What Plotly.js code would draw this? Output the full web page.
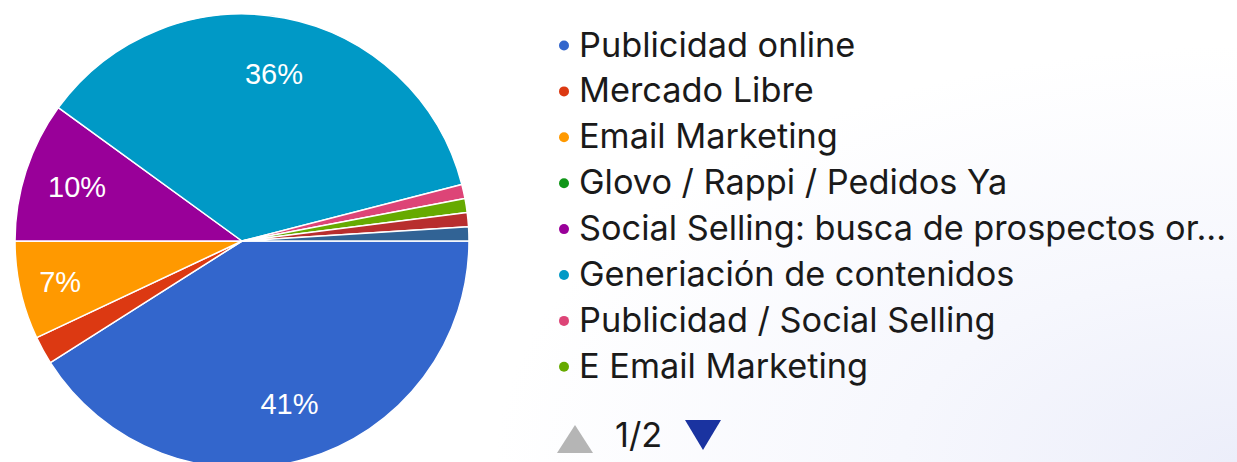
<!DOCTYPE html>
<html>
<head>
<meta charset="utf-8">
<script src="https://cdn.plot.ly/plotly-3.0.1.min.js"></script>
<style>
html,body{margin:0;padding:0;overflow:hidden;width:1237px;height:462px;
background: radial-gradient(ellipse 60% 90% at 100% 100%, #eceefa 0%, #f6f7fd 45%, #ffffff 100%);}
#chart{width:1237px;height:476px;}
</style>
</head>
<body>
<div id="chart"></div>
<script>
// ---- data ----
const labels = [
  "Publicidad online",
  "Mercado Libre",
  "Email Marketing",
  "Glovo / Rappi / Pedidos Ya",
  "Social Selling: busca de prospectos or...",
  "Generiación de contenidos",
  "Publicidad / Social Selling",
  "E Email Marketing",
  "Otra opción 1",
  "Otra opción 2"
];
const values = [41, 2, 7, 0, 10, 36, 1, 1, 1, 1];
const colors = ["#3366cc","#dc3912","#ff9900","#109618","#990099","#0099c6","#dd4477","#66aa00","#b82e2e","#316395"];
const legendPage = "1/2";
const legendCount = 8;

// ---- layout helpers ----
const W = 1237, H = 476;
const px = x => x / W;
const py = y => 1 - y / H;

const total = values.reduce((a,b)=>a+b,0);
const texts = values.map(v => (v/total >= 0.05) ? Math.round(100*v/total) + "%" : "");
const domain = {x: [px(15), px(469)], y: [py(468), py(14)]};

const base = {
  type: "pie",
  labels: labels,
  values: values,
  textinfo: "none",
  sort: false,
  direction: "clockwise",
  rotation: 90,
  marker: {colors: colors, line: {color: "#ffffff", width: 1.5}},
  domain: domain,
  showlegend: false,
  hoverinfo: "label+value+percent"
};
// transparent ring used only to place the percentage labels further out
const labelRing = {
  type: "pie",
  labels: labels,
  values: values,
  text: texts,
  textinfo: "text",
  textposition: "inside",
  insidetextorientation: "horizontal",
  textfont: {family: "Liberation Sans, Arial, sans-serif", size: 29, color: "#ffffff"},
  hole: 0.5,
  sort: false,
  direction: "clockwise",
  rotation: 90,
  marker: {colors: colors.map(() => "rgba(0,0,0,0)"), line: {width: 0}},
  domain: domain,
  showlegend: false,
  hoverinfo: "skip"
};

const annotations = [];
const shapes = [];
const font = "Inter, Liberation Sans, Arial, sans-serif";
const fsize = 34.3;
for (let i = 0; i < legendCount; i++) {
  const cy = 45.5 + 45.9 * i;
  shapes.push({type: "circle", xref: "paper", yref: "paper",
    x0: px(559), x1: px(569), y0: py(cy + 5), y1: py(cy - 5),
    fillcolor: colors[i], line: {width: 0}});
  annotations.push({xref: "paper", yref: "paper", x: px(577), y: py(cy - 1.5),
    xanchor: "left", yanchor: "middle", showarrow: false,
    text: labels[i], font: {family: font, size: fsize, color: "#1a1a1a"}});
}
// pager
shapes.push({type: "path", xref: "paper", yref: "paper",
  path: `M ${px(557)} ${py(453)} L ${px(593)} ${py(453)} L ${px(575)} ${py(425)} Z`,
  fillcolor: "#b5b5b5", line: {width: 0}});
shapes.push({type: "path", xref: "paper", yref: "paper",
  path: `M ${px(685)} ${py(420)} L ${px(721)} ${py(420)} L ${px(703)} ${py(450)} Z`,
  fillcolor: "#1a33a0", line: {width: 0}});
annotations.push({xref: "paper", yref: "paper", x: px(638), y: py(434),
  xanchor: "center", yanchor: "middle", showarrow: false,
  text: legendPage, font: {family: font, size: fsize, color: "#1a1a1a"}});

const layout = {
  width: W, height: H,
  margin: {l: 0, r: 0, t: 0, b: 0},
  paper_bgcolor: "rgba(0,0,0,0)",
  plot_bgcolor: "rgba(0,0,0,0)",
  showlegend: false,
  annotations: annotations,
  shapes: shapes
};

Plotly.newPlot("chart", [base, labelRing], layout, {displayModeBar: false, staticPlot: true});
</script>
</body>
</html>
